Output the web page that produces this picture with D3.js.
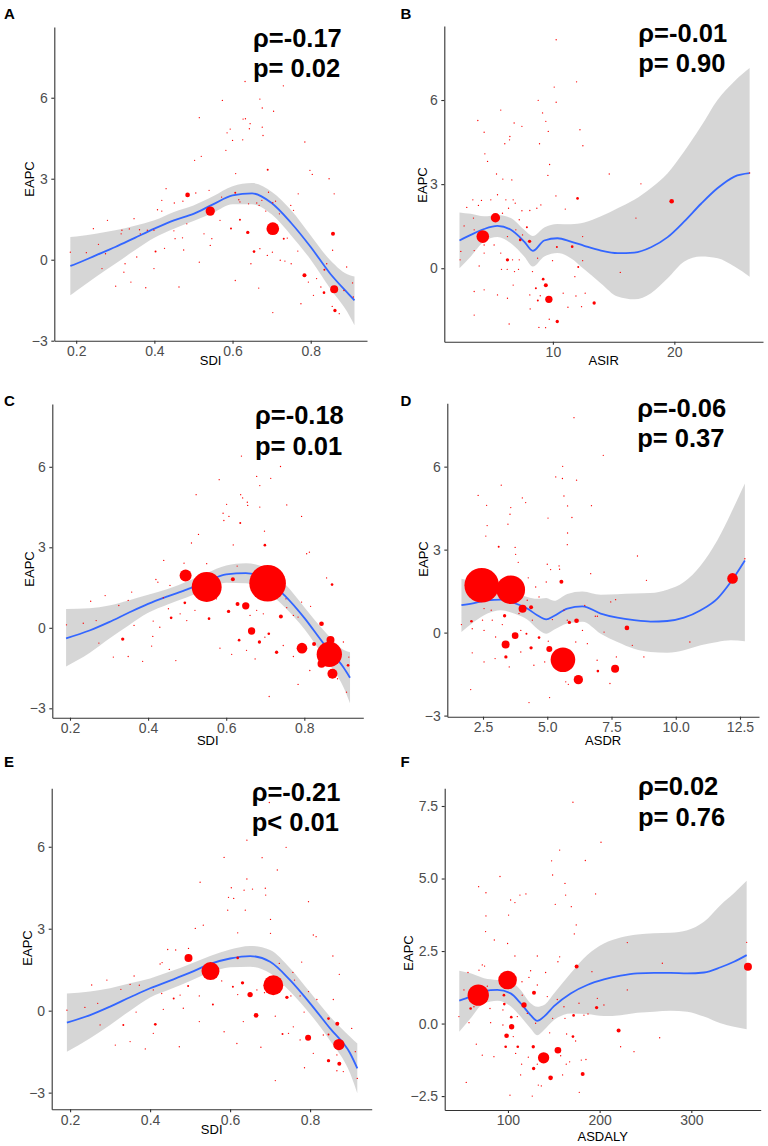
<!DOCTYPE html>
<html>
<head>
<meta charset="utf-8">
<script src="https://cdn.jsdelivr.net/npm/d3@7"></script>
<style>
  body { margin: 0; background: #fff; }
  svg { display: block; font-family: "Liberation Sans", Arial, sans-serif; }
</style>
</head>
<body>
<svg id="chart" width="768" height="1146"></svg>
<script>
/* ---- data: [x, EAPC, cases weight] per country ---- */
var sdiIncidence = [
  [0.703,1.15,361],[0.543,1.80,196],[0.860,-1.09,144],[0.485,2.40,49],[0.857,0.96,36],[0.862,-1.88,25],
  [0.784,-0.58,36],[0.639,1.01,25],[0.655,0.30,16],[0.619,1.48,9],[0.596,1.16,9],[0.607,2.48,9],
  [0.834,-1.22,16],[0.835,-0.37,9],[0.731,0.78,9],[0.403,0.30,9],[0.690,3.33,9],
  [0.632,6.6,4],[0.73,6.44,4],[0.574,5.9,4],[0.67,5.95,4],[0.676,5.62,4],[0.705,5.5,4],[0.515,5.26,4],
  [0.627,5.21,4],[0.633,5.22,4],[0.645,5.04,4],[0.676,4.91,4],[0.643,4.85,4],[0.594,4.84,4],[0.586,4.70,4],
  [0.678,4.60,4],[0.6,4.42,4],[0.626,4.44,4],[0.785,4.36,4],[0.583,4.05,4],[0.52,3.83,4],[0.503,3.68,4],
  [0.798,3.31,4],[0.804,3.16,4],[0.847,3.0,4],[0.608,3.19,4],[0.86,2.44,4],[0.768,2.44,4],[0.43,2.63,4],
  [0.506,2.47,4],[0.54,2.57,4],[0.572,2.32,4],[0.616,2.22,4],[0.619,2.14,4],[0.641,2.07,4],[0.662,2.1,4],
  [0.668,2.01,4],[0.71,2.17,4],[0.703,2.11,4],[0.749,2.01,4],[0.756,1.83,4],[0.685,1.80,4],[0.419,2.2,4],
  [0.408,1.85,4],[0.419,1.80,4],[0.451,2.1,4],[0.473,2.17,4],[0.483,1.33,4],[0.45,1.07,4],[0.472,0.81,4],
  [0.453,0.78,4],[0.399,1.09,4],[0.382,1.09,4],[0.362,1.11,4],[0.364,0.96,4],[0.336,1.14,4],[0.348,1.52,4],
  [0.317,1.09,4],[0.315,0.96,4],[0.28,1.46,4],[0.244,1.15,4],[0.257,0.57,4],[0.226,0.26,4],[0.185,0.28,4],
  [0.275,0.22,4],[0.266,-0.33,4],[0.301,-0.98,4],[0.325,-0.15,4],[0.322,-0.46,4],[0.34,-0.83,4],[0.355,0.1,4],
  [0.378,-1.04,4],[0.399,-0.33,4],[0.426,0.42,4],[0.463,-1.01,4],[0.475,0.36,4],[0.515,-0.09,4],[0.547,0.78,4],
  [0.527,0.96,4],[0.607,-0.77,4],[0.647,-0.15,4],[0.67,0.41,4],[0.689,0.16,4],[0.702,0.28,4],[0.722,-0.02,4],
  [0.667,-1.05,4],[0.703,-1.96,4],[0.734,-0.05,4],[0.75,-0.15,4],[0.767,0.32,4],[0.775,-1.63,4],[0.794,-0.83,4],
  [0.815,-0.7,4],[0.807,-1.32,4],[0.826,-1.01,4],[0.841,-0.15,4],[0.856,0.35,4],[0.855,-1.73,4],[0.873,-2.0,4],
  [0.892,-0.27,4],[0.907,-0.86,4],[0.909,-1.38,4],[0.885,-1.14,4],[0.74,0.8,4],[0.72,1.7,4],[0.692,2.5,4],
  [0.675,2.2,4],[0.543,0.53,4],[0.568,1.46,4]
];
var asirIncidence = [
  [4.23,1.13,361],[5.27,1.80,196],[9.67,-1.11,121],[19.78,2.39,49],[9.42,-0.61,36],[6.26,0.30,25],
  [8.08,0.96,25],[7.31,1.01,16],[12.03,2.49,16],[10.36,-1.9,25],[13.4,-1.24,25],[9.2,-0.39,16],
  [11.59,0.77,16],[7.86,1.46,9],[12.09,0.04,9],[8.6,-0.71,9],[8.76,-1.15,9],[10.33,0.76,9],
  [10.27,8.15,4],[10.11,6.46,4],[11.95,6.65,4],[10.27,5.92,4],[8.79,5.99,4],[9.15,5.54,4],[9.42,5.24,4],
  [5.71,5.64,4],[3.82,5.27,4],[6.81,5.18,4],[7.45,5.06,4],[4.34,4.85,4],[9.62,4.88,4],[12.23,4.94,4],
  [6.46,4.70,4],[6.43,4.58,4],[12.47,4.37,4],[8.9,4.44,4],[6.04,4.44,4],[4.4,4.08,4],[4.62,3.81,4],
  [9.73,3.7,4],[5.36,3.36,4],[5.88,3.18,4],[6.62,3.15,4],[9.59,3.31,4],[14.64,3.36,4],[17.25,3.01,4],
  [5.44,2.62,4],[10.25,2.58,4],[3.41,2.44,4],[4.12,2.42,4],[4.89,2.44,4],[6.13,2.44,4],[6.73,2.44,4],
  [6.9,2.32,4],[9.01,2.26,4],[8.68,2.14,4],[8.1,2.06,4],[11.02,2.11,4],[2.91,2.17,4],[3.87,2.24,4],
  [6.35,2.14,4],[5.85,1.96,4],[7.45,2.05,4],[7.23,1.73,4],[16.84,1.79,4],[3.46,1.79,4],[2.69,1.51,4],
  [3.52,1.37,4],[12.45,1.13,4],[6.26,1.13,4],[6.95,1.37,4],[7.5,1.19,4],[4.34,0.83,4],[5.16,0.83,4],
  [5.71,0.54,4],[6.68,0.30,4],[7.23,0.30,4],[8.74,0.36,4],[9.97,0.27,4],[12.45,0.27,4],[2.42,0.6,4],
  [3.52,0.63,4],[3.93,0.08,4],[4.34,0.54,4],[5.77,-0.04,4],[6.24,-0.04,4],[6.84,-0.12,4],[7.17,-0.04,4],
  [8.32,-0.12,4],[15.55,-0.15,4],[3.52,-0.83,4],[4.34,-0.77,4],[5.44,-0.95,4],[6.26,-1.07,4],[6.73,-0.6,4],
  [8.1,-0.95,4],[8.96,-0.98,4],[8.13,-1.45,4],[10.85,-0.89,4],[11.24,-1.39,4],[11.9,-0.99,4],[12.36,-1.37,4],
  [12.66,-0.89,4],[11.81,-0.3,4],[3.52,-1.67,4],[6.4,-1.99,4],[8.85,-2.11,4],[9.4,-2.12,4],[9.7,-1.82,4],
  [2.36,0.3,4],[26.2,3.4,4]
];
var sdiDeath = [
  [0.706,1.66,3025],[0.55,1.52,2025],[0.864,-0.99,1444],[0.496,1.95,324],[0.794,-0.76,256],[0.872,-1.71,225],
  [0.844,-1.34,144],[0.867,-0.45,144],[0.665,-0.12,121],[0.65,0.82,121],[0.844,0.15,49],[0.74,0.42,36],
  [0.629,0.89,36],[0.617,1.81,36],[0.606,0.61,25],[0.825,-0.60,36],[0.729,-0.91,25],[0.685,-0.53,25],
  [0.335,-0.42,25],[0.459,0.37,16],[0.556,0.34,16],[0.494,0.93,16],[0.633,-0.46,16],[0.709,-0.22,16],
  [0.871,1.61,16],[0.699,3.08,16],[0.636,3.91,9],[0.912,-1.40,16],
  [0.639,6.40,4],[0.739,6.01,4],[0.582,5.52,4],[0.678,5.64,4],[0.714,5.57,4],[0.686,5.30,4],[0.523,4.96,4],
  [0.637,4.96,4],[0.642,4.84,4],[0.654,4.68,4],[0.655,4.56,4],[0.601,4.6,4],[0.686,4.50,4],[0.755,4.58,4],
  [0.592,4.27,4],[0.607,4.15,4],[0.793,4.15,4],[0.594,4.0,4],[0.529,3.48,4],[0.511,3.16,4],[0.698,3.60,4],
  [0.618,3.09,4],[0.806,2.76,4],[0.813,2.82,4],[0.44,2.51,4],[0.492,2.41,4],[0.55,2.39,4],[0.628,2.3,4],
  [0.857,1.86,4],[0.42,1.8,4],[0.425,1.7,4],[0.456,1.58,4],[0.358,1.33,4],[0.29,1.2,4],[0.253,0.99,4],
  [0.349,1.02,4],[0.325,0.83,4],[0.439,1.12,4],[0.452,0.71,4],[0.482,0.52,4],[0.52,0.65,4],[0.499,0.27,4],
  [0.575,1.08,4],[0.678,0.65,4],[0.695,0.52,4],[0.753,1.08,4],[0.755,0.75,4],[0.772,0.46,4],[0.793,0.96,4],
  [0.816,0.80,4],[0.784,0.40,4],[0.234,0.17,4],[0.267,0.27,4],[0.364,0.09,4],[0.413,0.25,4],[0.43,0.02,4],
  [0.191,0.11,4],[0.274,-0.57,4],[0.311,-1.09,4],[0.349,-1.07,4],[0.386,-1.25,4],[0.412,-0.32,4],[0.409,-0.68,4],
  [0.471,-1.22,4],[0.584,-0.76,4],[0.614,-0.99,4],[0.652,-0.84,4],[0.674,-1.16,4],[0.699,-0.35,4],[0.746,-0.66,4],
  [0.772,-1.07,4],[0.784,-2.11,4],[0.814,-1.59,4],[0.885,-1.9,4],[0.9,-0.53,4],[0.914,-1.09,4],[0.908,-2.4,4],
  [0.71,-2.56,4],[0.853,-0.6,4],[0.661,0.46,4],[0.729,1.27,4]
];
var asdrDeath = [
  [2.45,1.71,2704],[3.58,1.55,1849],[5.61,-0.98,1369],[12.21,1.96,256],[6.21,-1.70,196],[7.64,-1.31,144],
  [4.04,0.86,144],[3.38,-0.43,144],[3.75,-0.11,100],[5.08,-0.59,81],[5.43,-1.24,100],[6.14,0.43,49],
  [8.1,0.17,49],[5.55,1.84,36],[4.37,0.92,36],[4.37,-0.55,25],[3.39,-0.88,25],[3.34,0.61,25],
  [5.86,0.37,25],[4.68,-0.18,16],[4.19,-0.04,9],[2.05,0.41,16],[3.11,3.10,9],[6.97,-1.39,16],
  [6.04,7.77,4],[7.18,6.41,4],[5.6,6.01,4],[5.33,5.63,4],[5.59,5.57,4],[6.14,5.51,4],[3.21,5.33,4],
  [2.31,4.96,4],[5.65,4.94,4],[4.03,4.87,4],[4.16,4.70,4],[2.64,4.60,4],[6.72,4.59,4],[5.79,4.58,4],
  [3.58,4.52,4],[3.55,4.28,4],[5.96,4.16,4],[5.03,4.14,4],[3.47,3.92,4],[2.66,3.87,4],[5.79,3.60,4],
  [2.61,3.49,4],[5.78,3.18,4],[3.75,3.08,4],[3.77,2.83,4],[8.51,2.77,4],[3.87,2.54,4],[5.0,2.47,4],
  [5.46,2.41,4],[5.48,2.29,4],[6.69,2.13,4],[5.13,2.28,4],[8.86,1.89,4],[4.26,1.98,4],[4.96,1.83,4],
  [4.55,1.65,4],[4.68,1.29,4],[4.22,1.17,4],[7.47,1.11,4],[7.66,1.19,4],[6.46,0.98,4],[5.65,0.81,4],
  [6.87,0.59,4],[6.95,0.59,4],[5.78,0.45,4],[5.2,0.47,4],[4.42,0.45,4],[3.9,0.69,4],[2.82,0.81,4],
  [2.54,0.87,4],[2.86,0.45,4],[2.48,0.45,4],[2.08,0.14,4],[1.66,0.29,4],[2.54,0.08,4],[2.99,-0.16,4],
  [3.25,0.29,4],[3.97,0.08,4],[5.04,-0.31,4],[6.11,-0.34,4],[6.37,0.08,4],[6.56,-0.4,4],[7.21,0.02,4],
  [8.31,-0.46,4],[10.55,-0.34,4],[7.69,-0.88,4],[8.76,-0.88,4],[6.94,-1.0,4],[4.9,-1.06,4],[4.48,-1.18,4],
  [3.97,-0.7,4],[3.52,-1.24,4],[2.54,-1.06,4],[2.97,-0.94,4],[2.08,-0.73,4],[5.72,-1.78,4],[5.82,-1.87,4],
  [7.44,-1.84,4],[5.09,-2.35,4],[4.29,-2.53,4],[2.02,-2.06,4],[12.69,2.67,4]
];
var sdiDaly = [
  [0.708,0.93,900],[0.551,1.45,729],[0.872,-1.24,289],[0.496,1.93,144],[0.795,-0.99,81],[0.665,-0.17,49],
  [0.65,0.59,64],[0.631,1.02,25],[0.868,-0.48,36],[0.873,-1.94,36],[0.846,-1.83,25],[0.742,0.49,25],
  [0.619,1.93,16],[0.413,-0.5,16],[0.459,0.45,9],[0.557,0.23,9],[0.495,0.90,9],[0.607,0.88,9],
  [0.731,-0.85,9],[0.846,-0.29,16],[0.846,-0.87,9],[0.333,-0.52,9],
  [0.642,6.24,4],[0.74,5.98,4],[0.585,5.61,4],[0.68,5.6,4],[0.718,5.15,4],[0.525,4.7,4],[0.642,4.82,4],
  [0.603,4.5,4],[0.635,4.41,4],[0.656,4.45,4],[0.688,4.48,4],[0.689,4.23,4],[0.596,4.15,4],[0.609,4.11,4],
  [0.796,3.99,4],[0.594,3.68,4],[0.638,3.68,4],[0.533,3.13,4],[0.513,3.01,4],[0.701,3.34,4],[0.808,2.77,4],
  [0.815,2.71,4],[0.619,2.85,4],[0.701,2.83,4],[0.857,2.0,4],[0.496,2.28,4],[0.444,2.24,4],[0.464,2.22,4],
  [0.425,1.71,4],[0.43,1.76,4],[0.448,1.51,4],[0.779,1.78,4],[0.723,1.73,4],[0.757,1.40,4],[0.873,1.33,4],
  [0.761,1.12,4],[0.36,1.27,4],[0.292,1.12,4],[0.254,0.94,4],[0.35,0.96,4],[0.373,0.93,4],[0.327,0.78,4],
  [0.408,0.76,4],[0.429,0.63,4],[0.475,0.57,4],[0.523,0.54,4],[0.579,1.09,4],[0.619,0.59,4],[0.667,0.76,4],
  [0.686,0.66,4],[0.752,0.54,4],[0.775,0.54,4],[0.796,0.70,4],[0.817,0.41,4],[0.785,-0.05,4],[0.237,0.12,4],
  [0.269,0.27,4],[0.365,-0.05,4],[0.433,0.05,4],[0.483,0.09,4],[0.192,0.02,4],[0.275,-0.52,4],[0.313,-1.26,4],
  [0.35,-1.13,4],[0.388,-1.40,4],[0.408,-0.83,4],[0.473,-1.32,4],[0.523,-0.40,4],[0.585,-0.77,4],[0.617,-1.20,4],
  [0.633,-0.40,4],[0.677,-1.34,4],[0.713,-0.20,4],[0.746,-0.83,4],[0.758,-0.59,4],[0.775,-1.07,4],[0.786,-2.09,4],
  [0.808,-1.56,4],[0.833,-0.89,4],[0.867,-2.2,4],[0.883,-2.23,4],[0.904,-0.65,4],[0.913,-1.5,4],[0.918,-2.48,4],
  [0.713,-2.56,4],[0.867,-1.62,4],[0.858,0.41,4],[0.698,7.62,4]
];
var asdalyDaly = [
  [67.6,0.98,1024],[99.6,1.50,784],[138.9,-1.18,289],[361.8,1.96,144],[154.5,-0.92,100],[117.5,0.64,64],
  [104,-0.11,64],[98.5,-0.42,49],[128.4,1.06,36],[174.9,1.97,36],[146.5,-1.87,49],[181.5,-1.74,36],
  [220.7,-0.24,36],[196.7,0.55,25],[127.6,-0.80,25],[128,-1.55,25],[171.6,0.28,16],[170.9,-0.45,16],
  [59.3,0.52,16],[95.6,0.98,16],[97.5,-0.80,16],[103.6,0.22,16],[110.7,-0.80,16],[96,0.67,16],
  [170.9,7.63,4],[201.5,6.25,4],[156.4,5.98,4],[184.4,5.62,4],[147.6,5.61,4],[91.3,5.07,4],[148.7,5.12,4],
  [68,4.72,4],[162.2,4.83,4],[113.1,4.43,4],[119.6,4.47,4],[76,4.51,4],[195.6,4.47,4],[162.9,4.43,4],
  [102.9,4.26,4],[107.6,4.17,4],[151.6,4.11,4],[169.1,4.03,4],[76,3.71,4],[100.7,3.74,4],[174.5,3.40,4],
  [75.6,3.17,4],[172.4,3.09,4],[85.1,2.88,4],[99.6,2.76,4],[230.2,2.79,4],[360.4,2.80,4],[107.6,2.33,4],
  [132,2.33,4],[156.4,2.30,4],[154.5,2.13,4],[268.4,2.08,4],[72,2.02,4],[74.5,1.98,4],[68.4,1.84,4],
  [124.7,1.82,4],[141.1,1.76,4],[56.4,1.76,4],[191.6,1.79,4],[122.9,1.59,4],[115.3,1.44,4],[132,1.33,4],
  [230.2,1.16,4],[91.3,1.44,4],[77.5,1.29,4],[52,1.16,4],[115.6,0.98,4],[142.9,0.93,4],[153.8,0.83,4],
  [161.1,0.58,4],[177.5,0.70,4],[204.7,0.64,4],[197.5,0.87,4],[80.4,0.52,4],[94.5,0.47,4],[121.1,0.35,4],
  [110.2,0.24,4],[148.7,0.18,4],[162.2,0.18,4],[182.9,0.29,4],[187.3,0.33,4],[46.5,0.24,4],[57.5,0.03,4],
  [81.1,0.03,4],[94.5,-0.05,4],[130.2,0.01,4],[145.5,-0.32,4],[164,-0.36,4],[173.8,-0.60,4],[265.5,-0.49,4],
  [222.9,-0.80,4],[237.5,-0.97,4],[65.5,-0.71,4],[72,-1.09,4],[84.7,-1.14,4],[105.8,-0.45,4],[108.4,-1.03,4],
  [114.9,-1.40,4],[113.8,-1.77,4],[122.2,-1.16,4],[132,-1.40,4],[157.5,-1.11,4],[163.6,-1.40,4],[167.3,-1.32,4],
  [159.6,-1.77,4],[180,-1.26,4],[185.1,-1.24,4],[133.1,-2.12,4],[136.4,-2.15,4],[126.5,-2.50,4],[102.2,-2.47,4],
  [177.8,-2.37,4],[54.5,-2.03,4],[62.9,0.58,4]
];

/* ---- loess fits: [x, fit, lower, upper] ---- */
var fitSdiIncidence = [
  [0.185,-0.23,-1.32,0.84],[0.2,-0.15,-1.16,0.86],[0.25,0.16,-0.64,0.96],[0.3,0.47,-0.15,1.09],
  [0.35,0.81,0.35,1.26],[0.4,1.15,0.81,1.46],[0.45,1.46,1.15,1.77],[0.5,1.70,1.43,2.01],
  [0.55,2.05,1.73,2.35],[0.6,2.38,2.05,2.72],[0.65,2.46,2.05,2.84],[0.7,2.10,1.68,2.52],
  [0.75,1.36,0.90,1.83],[0.8,0.47,0.0,0.90],[0.85,-0.52,-1.07,-0.02],[0.9,-1.32,-2.1,-0.58],
  [0.912,-1.51,-2.43,-0.62]
];
var fitAsirIncidence = [
  [2.31,0.99,0.0,1.99],[3.24,1.19,0.42,1.94],[4.34,1.40,0.95,1.85],[5.44,1.51,1.11,1.90],
  [6.54,1.37,0.89,1.79],[7.64,0.95,0.42,1.37],[8.35,0.62,0.06,1.15],[9.29,0.99,0.42,1.45],
  [10.38,1.07,0.54,1.58],[11.48,0.95,0.36,1.57],[12.58,0.80,-0.04,1.63],[13.96,0.63,-0.54,1.85],
  [15.33,0.54,-1.01,2.14],[16.7,0.56,-1.11,2.44],[18.08,0.75,-0.89,2.86],[19.45,1.11,-0.36,3.39],
  [20.82,1.67,0.24,4.17],[22.2,2.30,0.42,5.06],[23.57,2.86,0.36,6.01],[24.95,3.27,0.06,6.67],
  [26.2,3.39,-0.30,7.14]
];
var fitSdiDeath = [
  [0.19,-0.39,-1.44,0.70],[0.25,-0.10,-0.94,0.73],[0.3,0.21,-0.41,0.83],[0.35,0.56,0.09,1.02],
  [0.4,0.89,0.56,1.23],[0.45,1.17,0.87,1.45],[0.5,1.43,1.14,1.73],[0.55,1.73,1.43,2.04],
  [0.6,1.99,1.68,2.32],[0.65,2.04,1.66,2.41],[0.7,1.83,1.39,2.24],[0.75,1.20,0.77,1.64],
  [0.8,0.37,-0.04,0.77],[0.85,-0.60,-1.09,-0.10],[0.9,-1.47,-2.21,-0.82],[0.917,-1.86,-2.81,-0.91]
];
var fitAsdrDeath = [
  [1.66,0.99,0.02,1.95],[2.15,1.07,0.39,1.83],[2.67,1.17,0.69,1.65],[3.19,1.19,0.81,1.59],
  [3.71,1.07,0.69,1.47],[4.22,0.87,0.47,1.29],[4.61,0.63,0.14,1.22],[4.96,0.48,-0.04,1.25],
  [5.26,0.60,0.10,1.15],[5.78,0.87,0.33,1.40],[6.37,0.95,0.39,1.49],[7.08,0.69,-0.04,1.37],
  [7.73,0.54,-0.34,1.39],[8.38,0.45,-0.58,1.41],[9.02,0.40,-0.70,1.43],[9.67,0.42,-0.73,1.55],
  [10.32,0.54,-0.64,1.83],[10.97,0.81,-0.46,2.43],[11.62,1.23,-0.34,3.34],[12.14,1.83,-0.28,4.30],
  [12.69,2.61,-0.31,5.39]
];
var fitSdiDaly = [
  [0.192,-0.44,-1.50,0.63],[0.25,-0.16,-1.01,0.70],[0.3,0.15,-0.52,0.82],[0.35,0.49,0.0,1.0],
  [0.4,0.82,0.48,1.18],[0.45,1.10,0.78,1.43],[0.5,1.39,1.09,1.71],[0.55,1.71,1.40,2.0],
  [0.6,1.91,1.59,2.24],[0.65,2.0,1.61,2.37],[0.7,1.79,1.37,2.22],[0.75,1.12,0.70,1.55],
  [0.8,0.27,-0.12,0.67],[0.85,-0.65,-1.10,-0.22],[0.9,-1.56,-2.29,-0.95],[0.918,-2.11,-3.02,-1.20]
];
var fitAsdalyDaly = [
  [46.9,0.79,-0.28,1.82],[59.3,0.93,0.18,1.73],[73.8,1.12,0.70,1.56],[88.4,1.16,0.79,1.50],
  [102.9,1.04,0.60,1.44],[113.8,0.70,0.24,1.16],[124.7,0.29,-0.17,0.70],[132,0.09,-0.40,0.58],
  [139.3,0.24,-0.22,0.64],[150.2,0.60,0.12,1.04],[168.4,1.04,0.35,1.73],[186.5,1.33,0.33,2.36],
  [204.7,1.52,0.26,2.76],[222.9,1.65,0.29,2.97],[241.1,1.73,0.37,3.07],[259.3,1.75,0.41,3.11],
  [277.5,1.75,0.44,3.13],[295.6,1.73,0.41,3.22],[313.8,1.76,0.24,3.51],[332,1.94,0.01,4.09],
  [346.5,2.13,-0.11,4.49],[360.4,2.36,-0.20,4.92]
];

/* ---- ticks, titles, stats ---- */
var sdiTicks = [0.2, 0.4, 0.6, 0.8];
var sdiTickLabels = ["0.2", "0.4", "0.6", "0.8"];
var asirTicks = [10, 20];
var asirTickLabels = ["10", "20"];
var asdrTicks = [2.5, 5, 7.5, 10, 12.5];
var asdrTickLabels = ["2.5", "5.0", "7.5", "10.0", "12.5"];
var asdalyTicks = [100, 200, 300];
var asdalyTickLabels = ["100", "200", "300"];
var eapcTicks = [-3, 0, 3, 6];
var eapcTickLabels = ["\u22123", "0", "3", "6"];
var eapcDalyTicks = [-2.5, 0, 2.5, 5, 7.5];
var eapcDalyTickLabels = ["\u22122.5", "0.0", "2.5", "5.0", "7.5"];
var panelTags = ["A", "B", "C", "D", "E", "F"];
var xTitles = ["SDI", "ASIR", "SDI", "ASDR", "SDI", "ASDALY"];
var rhoText = ["\u03c1=-0.17", "\u03c1=-0.01", "\u03c1=-0.18", "\u03c1=-0.06", "\u03c1=-0.21", "\u03c1=0.02"];
var pText = ["p= 0.02", "p= 0.90", "p= 0.01", "p= 0.37", "p< 0.01", "p= 0.76"];

/* panel layout (pixels) */
var layout = [
  {l:54.3, r:367, t:27, b:340.7, xd:[0.144,0.944], yd:[-3.0,8.62], ytx:34, yty:179, xty:365, sx:253, s1:46.7, tag:[4,19]},
  {l:444.3, r:763, t:26, b:341.7, xd:[1.06,27.3], yd:[-2.62,8.64], ytx:427, yty:185, xty:364.5, sx:638.3, s1:41.7, tag:[400.5,19]},
  {l:52.3, r:363.3, t:404, b:717.7, xd:[0.1547,0.951], yd:[-3.35,8.34], ytx:34, yty:569, xty:745, sx:255, s1:424, tag:[4,405.7]},
  {l:447.3, r:759, t:403.3, b:716.7, xd:[1.11,13.24], yd:[-3.04,8.29], ytx:428, yty:559, xty:745, sx:637.3, s1:416.7, tag:[400.5,405.7]},
  {l:51.7, r:371.7, t:788.3, b:1109.3, xd:[0.154,0.954], yd:[-3.61,8.14], ytx:31.7, yty:948, xty:1134, sx:251.7, s1:800.7, tag:[4,767]},
  {l:444.7, r:760.7, t:788.3, b:1110, xd:[31,375.7], yd:[-2.98,8.11], ytx:413, yty:953, xty:1141, sx:638, s1:795, tag:[400.5,767]}
];

var panels = [
  {pts: sdiIncidence, fit: fitSdiIncidence, xt: sdiTicks, xl: sdiTickLabels, yt: eapcTicks, yl: eapcTickLabels},
  {pts: asirIncidence, fit: fitAsirIncidence, xt: asirTicks, xl: asirTickLabels, yt: eapcTicks, yl: eapcTickLabels},
  {pts: sdiDeath, fit: fitSdiDeath, xt: sdiTicks, xl: sdiTickLabels, yt: eapcTicks, yl: eapcTickLabels},
  {pts: asdrDeath, fit: fitAsdrDeath, xt: asdrTicks, xl: asdrTickLabels, yt: eapcTicks, yl: eapcTickLabels},
  {pts: sdiDaly, fit: fitSdiDaly, xt: sdiTicks, xl: sdiTickLabels, yt: eapcTicks, yl: eapcTickLabels},
  {pts: asdalyDaly, fit: fitAsdalyDaly, xt: asdalyTicks, xl: asdalyTickLabels, yt: eapcDalyTicks, yl: eapcDalyTickLabels}
];

var svg = d3.select("#chart");
var size = d3.scaleSqrt().domain([0, 3025]).range([0, 18.3]);

// keep only ticks that fall inside the axis range
function inside(ticks, labels, dom) {
  var lo = Math.min(dom[0], dom[1]), hi = Math.max(dom[0], dom[1]);
  var t = [], l = [];
  ticks.forEach(function(v, k) {
    if (v >= lo - 1e-9 && v <= hi + 1e-9) { t.push(v); l.push(labels[k]); }
  });
  return {t: t, l: l};
}

panels.forEach(function(p, i) {
  var L = layout[i];
  var x = d3.scaleLinear().domain(L.xd).range([L.l, L.r]);
  var y = d3.scaleLinear().domain(L.yd).range([L.b, L.t]);
  var g = svg.append("g");

  // confidence band
  var band = d3.area()
    .x(function(d) { return x(d[0]); })
    .y0(function(d) { return y(d[2]); })
    .y1(function(d) { return y(d[3]); })
    .curve(d3.curveMonotoneX);
  g.append("path").datum(p.fit)
    .attr("d", band)
    .attr("fill", "#999999")
    .attr("fill-opacity", 0.4);

  var line = d3.line()
    .x(function(d) { return x(d[0]); })
    .y(function(d) { return y(d[1]); })
    .curve(d3.curveMonotoneX);
  g.append("path").datum(p.fit)
    .attr("d", line)
    .attr("fill", "none")
    .attr("stroke", "#3366FF")
    .attr("stroke-width", 1.8);

  // points, biggest first
  var pts = p.pts.slice().sort(function(a, b) { return b[2] - a[2]; });
  g.selectAll("circle.pt")
    .data(pts)
    .enter().append("circle")
    .attr("class", "pt")
    .attr("cx", function(d) { return x(d[0]); })
    .attr("cy", function(d) { return y(d[1]); })
    .attr("r", function(d) { return size(d[2]); })
    .attr("fill", "#FF0000");

  // axes
  var xs = inside(p.xt, p.xl, L.xd), ys = inside(p.yt, p.yl, L.yd);
  var xa = g.append("g")
    .attr("transform", "translate(0," + L.b + ")")
    .call(d3.axisBottom(x).tickValues(xs.t)
      .tickFormat(function(d, j) { return xs.l[j]; })
      .tickSize(3).tickSizeOuter(0).tickPadding(2.5));
  var ya = g.append("g")
    .attr("transform", "translate(" + L.l + ",0)")
    .call(d3.axisLeft(y).tickValues(ys.t)
      .tickFormat(function(d, j) { return ys.l[j]; })
      .tickSize(3).tickSizeOuter(0).tickPadding(3.6));
  [xa, ya].forEach(function(a) {
    a.select(".domain").attr("stroke", "#333333").attr("stroke-width", 1.1);
    a.selectAll(".tick line").attr("stroke", "#333333").attr("stroke-width", 1.1);
    a.selectAll(".tick text")
      .attr("fill", "#4D4D4D")
      .style("font-size", "14px")
      .style("font-family", "Liberation Sans, Arial, sans-serif");
  });

  // titles
  g.append("text")
    .attr("x", (L.l + L.r) / 2)
    .attr("y", L.xty)
    .attr("text-anchor", "middle")
    .style("font-size", "13px")
    .text(xTitles[i]);
  g.append("text")
    .attr("transform", "translate(" + L.ytx + "," + L.yty + ") rotate(-90)")
    .attr("text-anchor", "middle")
    .style("font-size", "13px")
    .text("EAPC");

  // correlation text
  g.append("text")
    .attr("x", L.sx).attr("y", L.s1)
    .style("font-size", "25.5px").style("font-weight", "bold")
    .text(rhoText[i]);
  g.append("text")
    .attr("x", L.sx).attr("y", L.s1 + 30.5)
    .style("font-size", "25.5px").style("font-weight", "bold")
    .text(pText[i]);

  // panel tag
  g.append("text")
    .attr("x", L.tag[0]).attr("y", L.tag[1])
    .style("font-size", "15px").style("font-weight", "bold")
    .text(panelTags[i]);
});
</script>
</body>
</html>
